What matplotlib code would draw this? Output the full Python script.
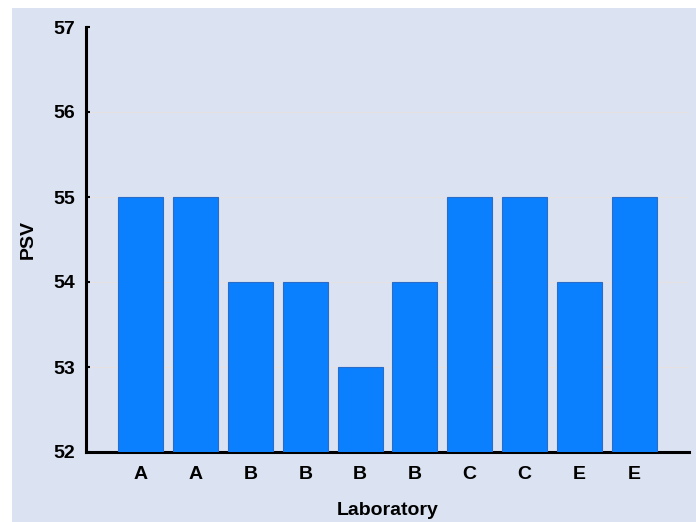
import matplotlib
matplotlib.use("Agg")
import matplotlib.pyplot as plt
from matplotlib.patches import Rectangle

labs = ["A", "A", "B", "B", "B", "B", "C", "C", "E", "E"]
psv = [55, 55, 54, 54, 53, 54, 55, 55, 54, 55]

plt.rcParams['font.family'] = ['Liberation Sans', 'DejaVu Sans']

fig = plt.figure(figsize=(6.96, 5.22), dpi=100)
fig.patch.set_facecolor('white')
# light blue panel behind everything, white margin on top/left
fig.patches.append(Rectangle((12 / 696, 0), 1, 1 - 8 / 522, transform=fig.transFigure,
                             facecolor='#dbe3f2', edgecolor='none', zorder=-10))

ax = fig.add_axes([86 / 696, 70 / 522, 603 / 696, 425 / 522])
ax.set_facecolor('none')

x = list(range(len(psv)))
ax.bar(x, [v - 52 for v in psv], bottom=52, width=0.82,
       color='#0a80ff', edgecolor='#2a6cc8', linewidth=0.8, zorder=3)

ax.set_xlim(-1, 10)
ax.set_ylim(52, 57)
ax.set_yticks([52, 53, 54, 55, 56, 57])
ax.set_xticks(x)
ax.set_xticklabels(labs)

for yv in [53, 54, 55, 56]:
    ax.axhline(yv, color='#e6e0e0', linewidth=0.8, zorder=1)

for s in ['top', 'right']:
    ax.spines[s].set_visible(False)
for s in ['left', 'bottom']:
    ax.spines[s].set_linewidth(2.2)
    ax.spines[s].set_color('black')

ax.tick_params(axis='both', direction='in', length=3, width=1.5, labelsize=14)
ax.tick_params(axis='x', pad=10)
ax.tick_params(axis='y', pad=8)
for t in ax.get_xticklabels() + ax.get_yticklabels():
    t.set_fontweight('bold')

ax.set_xlabel('Laboratory', fontsize=14, fontweight='bold', labelpad=14)
ax.set_ylabel('PSV', fontsize=14, fontweight='bold', labelpad=12)

fig.savefig('out.png', dpi=100)
